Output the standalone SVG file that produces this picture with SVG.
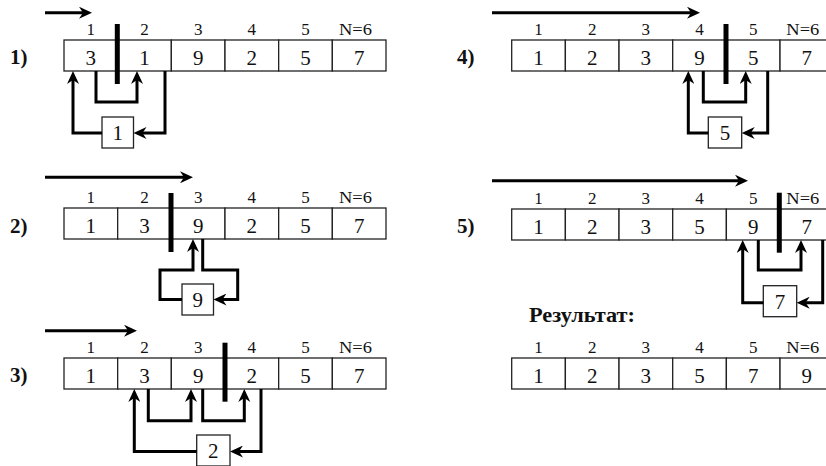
<svg xmlns="http://www.w3.org/2000/svg" width="826" height="466" viewBox="0 0 826 466" font-family="Liberation Serif, DejaVu Serif, serif">
<style>
text{font-family:'Liberation Serif','DejaVu Serif',serif}
.cell{fill:#fff;stroke:#222;stroke-width:1.3}
.val{font-size:21px;text-anchor:middle;fill:#111}
.idx{font-size:17px;text-anchor:middle;fill:#111}
.lbl{font-size:21px;font-weight:bold;fill:#111}
.bar{stroke:#000;stroke-width:5}
.con{fill:none;stroke:#000;stroke-width:3;marker-end:url(#ah)}
.box{fill:#fff;stroke:#222;stroke-width:1.3}
</style>
<defs>
<marker id="ah" markerUnits="userSpaceOnUse" markerWidth="14" markerHeight="12" refX="5" refY="6" orient="auto">
<path d="M0,0 L13,6 L0,12 L4,6 Z" fill="#000"/>
</marker>
<g id="rowL">
<rect class="cell" x="64" y="0" width="53.67" height="31"/>
<rect class="cell" x="117.67" y="0" width="53.67" height="31"/>
<rect class="cell" x="171.33" y="0" width="53.67" height="31"/>
<rect class="cell" x="225" y="0" width="53.67" height="31"/>
<rect class="cell" x="278.67" y="0" width="53.67" height="31"/>
<rect class="cell" x="332.33" y="0" width="53.67" height="31"/>
<text class="idx" x="90.8" y="-5">1</text>
<text class="idx" x="144.5" y="-5">2</text>
<text class="idx" x="198.2" y="-5">3</text>
<text class="idx" x="251.8" y="-5">4</text>
<text class="idx" x="305.5" y="-5">5</text>
<text class="idx" x="355.5" y="-5" textLength="33" lengthAdjust="spacingAndGlyphs">N=6</text>
</g>
<g id="rowR">
<rect class="cell" x="511.7" y="0" width="53.67" height="31"/>
<rect class="cell" x="565.37" y="0" width="53.67" height="31"/>
<rect class="cell" x="619.03" y="0" width="53.67" height="31"/>
<rect class="cell" x="672.7" y="0" width="53.67" height="31"/>
<rect class="cell" x="726.37" y="0" width="53.67" height="31"/>
<rect class="cell" x="780.03" y="0" width="53.67" height="31"/>
<text class="idx" x="538.5" y="-5">1</text>
<text class="idx" x="592.2" y="-5">2</text>
<text class="idx" x="645.8" y="-5">3</text>
<text class="idx" x="699.5" y="-5">4</text>
<text class="idx" x="753.2" y="-5">5</text>
<text class="idx" x="802.8" y="-5" textLength="33" lengthAdjust="spacingAndGlyphs">N=6</text>
</g>
</defs>

<g id="step1">
<text class="lbl" x="10" y="64">1)</text>
<use href="#rowL" y="40"/>
<text class="val" x="90.8" y="65">3</text>
<text class="val" x="144.5" y="65">1</text>
<text class="val" x="198.2" y="65">9</text>
<text class="val" x="251.8" y="65">2</text>
<text class="val" x="305.5" y="65">5</text>
<text class="val" x="359.2" y="65">7</text>
</g>
<g id="box1">
<rect class="box" x="102" y="117" width="31.5" height="31"/>
<text class="val" x="117.7" y="140">1</text>
</g>

<g id="step2">
<text class="lbl" x="10" y="233">2)</text>
<use href="#rowL" y="208"/>
<text class="val" x="90.8" y="233">1</text>
<text class="val" x="144.5" y="233">3</text>
<text class="val" x="198.2" y="233">9</text>
<text class="val" x="251.8" y="233">2</text>
<text class="val" x="305.5" y="233">5</text>
<text class="val" x="359.2" y="233">7</text>
</g>
<g id="box2">
<rect class="box" x="182" y="284" width="31.5" height="31"/>
<text class="val" x="197.7" y="307">9</text>
</g>

<g id="step3">
<text class="lbl" x="10" y="382">3)</text>
<use href="#rowL" y="358"/>
<text class="val" x="90.8" y="383">1</text>
<text class="val" x="144.5" y="383">3</text>
<text class="val" x="198.2" y="383">9</text>
<text class="val" x="251.8" y="383">2</text>
<text class="val" x="305.5" y="383">5</text>
<text class="val" x="359.2" y="383">7</text>
</g>
<g id="box3">
<rect class="box" x="196.7" y="435" width="33.3" height="31"/>
<text class="val" x="213.3" y="458">2</text>
</g>

<g id="step4">
<text class="lbl" x="457" y="64">4)</text>
<use href="#rowR" y="40"/>
<text class="val" x="538.5" y="65">1</text>
<text class="val" x="592.2" y="65">2</text>
<text class="val" x="645.8" y="65">3</text>
<text class="val" x="699.5" y="65">9</text>
<text class="val" x="753.2" y="65">5</text>
<text class="val" x="806.8" y="65">7</text>
</g>
<g id="box4">
<rect class="box" x="708.3" y="117" width="33.4" height="31"/>
<text class="val" x="725" y="140">5</text>
</g>

<g id="step5">
<text class="lbl" x="457" y="233">5)</text>
<use href="#rowR" y="209"/>
<text class="val" x="538.5" y="234">1</text>
<text class="val" x="592.2" y="234">2</text>
<text class="val" x="645.8" y="234">3</text>
<text class="val" x="699.5" y="234">5</text>
<text class="val" x="753.2" y="234">9</text>
<text class="val" x="806.8" y="234">7</text>
</g>
<g id="box5">
<rect class="box" x="763.3" y="285.7" width="33.4" height="31"/>
<text class="val" x="780" y="308.5">7</text>
</g>

<g id="result">
<text class="lbl" x="529" y="322" font-size="19" textLength="106" lengthAdjust="spacingAndGlyphs">Результат:</text>
<use href="#rowR" y="358"/>
<text class="val" x="538.5" y="383">1</text>
<text class="val" x="592.2" y="383">2</text>
<text class="val" x="645.8" y="383">3</text>
<text class="val" x="699.5" y="383">5</text>
<text class="val" x="753.2" y="383">7</text>
<text class="val" x="806.8" y="383">9</text>
</g>

<g id="connectors">
<path class="con" d="M45,12.7 H84"/>
<path class="con" d="M45,177.3 H185"/>
<path class="con" d="M45,330.7 H129"/>
<path class="con" d="M492,12.7 H692"/>
<path class="con" d="M492,180.7 H740"/>
<line class="bar" x1="117.3" y1="24" x2="117.3" y2="84"/>
<line class="bar" x1="171" y1="193" x2="171" y2="252"/>
<line class="bar" x1="225" y1="342.7" x2="225" y2="401.7"/>
<line class="bar" x1="726" y1="24" x2="726" y2="84"/>
<line class="bar" x1="779.3" y1="192.7" x2="779.3" y2="252.7"/>
<path class="con" d="M102,133 H73 V79"/>
<path class="con" d="M96,71 V102 H137 V79"/>
<path class="con" d="M165,71 V133 H141.5"/>
<path class="con" d="M182,299.5 H160 V270 H193 V247"/>
<path class="con" d="M202.7,239 V270 H237.7 V299.5 H221.5"/>
<path class="con" d="M196.7,451.5 H134.3 V397"/>
<path class="con" d="M148.3,389 V420.7 H191 V397"/>
<path class="con" d="M202.7,389 V420.7 H244.3 V397"/>
<path class="con" d="M261,389 V451.5 H238"/>
<path class="con" d="M708.3,133 H688.3 V79"/>
<path class="con" d="M703.3,71 V102 H745.7 V79"/>
<path class="con" d="M767.7,71 V133 H749.7"/>
<path class="con" d="M763.3,302.7 H742.7 V248"/>
<path class="con" d="M758.3,240 V270 H801 V248"/>
<path class="con" d="M822.7,240 V302.7 H804.7"/>
</g>
</svg>
